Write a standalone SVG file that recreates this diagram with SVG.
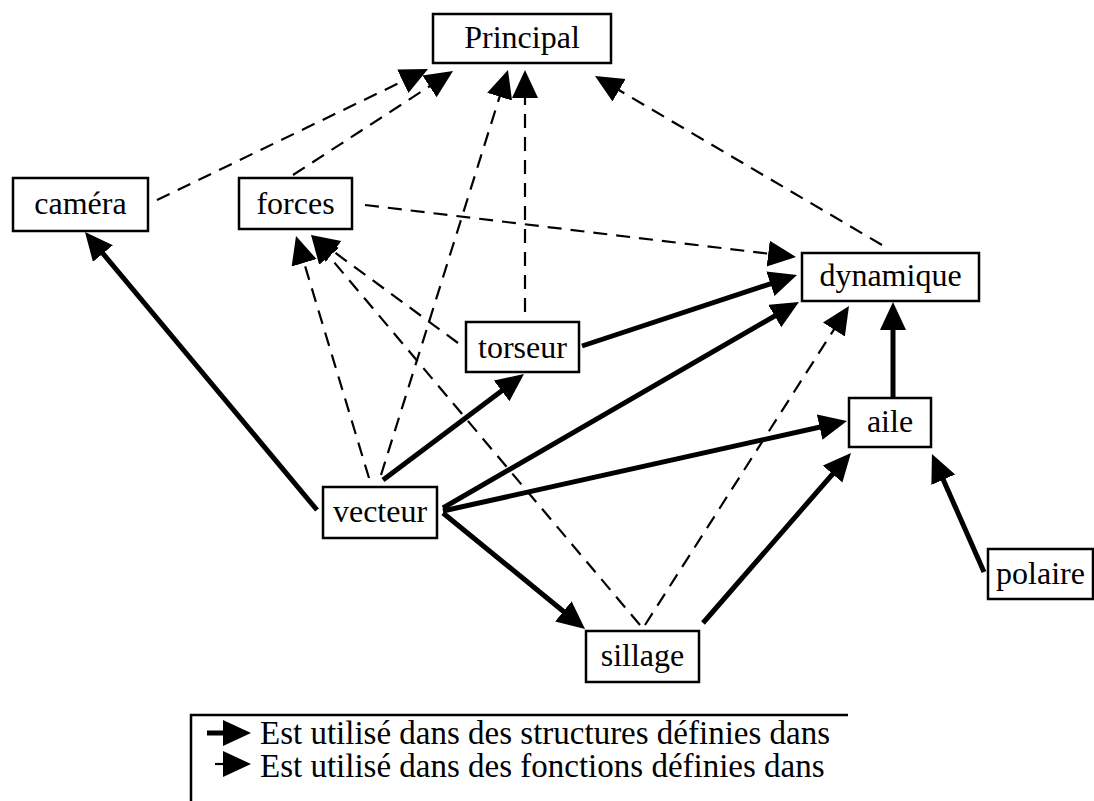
<svg xmlns="http://www.w3.org/2000/svg" width="1094" height="801" viewBox="0 0 1094 801">
<defs>
<marker id="ah" markerUnits="userSpaceOnUse" markerWidth="30" markerHeight="28" refX="18" refY="13" orient="auto"><path d="M0,0 L28,13 L0,26 z" fill="#000"/></marker>
<style>
.box{fill:#fff;stroke:#000;stroke-width:2.5}
.t{font-family:"Liberation Serif","Times New Roman",serif;font-size:32px;fill:#000;text-anchor:middle}
.lt{font-family:"Liberation Serif","Times New Roman",serif;font-size:33px;fill:#000}
.s{stroke:#000;stroke-width:5;fill:none;marker-end:url(#ah)}
.d{stroke:#000;stroke-width:2.2;fill:none;stroke-dasharray:14 9;marker-end:url(#ah)}
</style>
</defs>
<rect width="1094" height="801" fill="#fff"/>
<g id="connectors">
<line class="s" x1="317" y1="510" x2="91.4" y2="239.7"/>
<line class="s" x1="383" y1="480" x2="516" y2="380"/>
<line class="s" x1="443" y1="508" x2="790.3" y2="307"/>
<line class="s" x1="443" y1="511" x2="837.2" y2="423.2"/>
<line class="s" x1="443" y1="513" x2="577.3" y2="622.7"/>
<line class="s" x1="582" y1="346" x2="787.5" y2="278.1"/>
<line class="s" x1="893" y1="397" x2="893" y2="312"/>
<line class="s" x1="703" y1="623" x2="844.4" y2="460.5"/>
<line class="s" x1="984" y1="572" x2="936" y2="463.2"/>
<line class="d" x1="157" y1="200" x2="419" y2="73.4"/>
<line class="d" x1="293" y1="175" x2="444.6" y2="76.5"/>
<line class="d" x1="365" y1="205" x2="786.1" y2="255.8"/>
<line class="d" x1="381" y1="475" x2="505" y2="79.5"/>
<line class="d" x1="525" y1="312" x2="525" y2="80"/>
<line class="d" x1="882" y1="245" x2="603.6" y2="81.1"/>
<line class="d" x1="369" y1="478" x2="298.9" y2="245.6"/>
<line class="d" x1="458" y1="343" x2="319.1" y2="240.9"/>
<line class="d" x1="640" y1="625" x2="317.5" y2="242.6"/>
<line class="d" x1="645" y1="625" x2="843.6" y2="314.4"/>
</g>
<g id="principal"><rect class="box" x="433" y="14" width="178" height="49"/><text class="t" x="522" y="48">Principal</text></g>
<g id="camera"><rect class="box" x="13" y="178" width="135" height="53"/><text class="t" x="80.5" y="214">caméra</text></g>
<g id="forces"><rect class="box" x="239" y="178" width="113" height="51"/><text class="t" x="295.5" y="214">forces</text></g>
<g id="dynamique"><rect class="box" x="802" y="253" width="177" height="48"/><text class="t" x="890.5" y="286">dynamique</text></g>
<g id="torseur"><rect class="box" x="466" y="322" width="113" height="50"/><text class="t" x="522.5" y="358">torseur</text></g>
<g id="aile"><rect class="box" x="849" y="398" width="82" height="49"/><text class="t" x="890" y="432">aile</text></g>
<g id="vecteur"><rect class="box" x="323" y="487" width="114" height="51"/><text class="t" x="380" y="522">vecteur</text></g>
<g id="polaire"><rect class="box" x="988" y="549" width="105" height="50"/><text class="t" x="1040.5" y="584">polaire</text></g>
<g id="sillage"><rect class="box" x="586" y="631" width="113" height="51"/><text class="t" x="642.5" y="666">sillage</text></g>
<g id="legend">
<path d="M191,801 V715 H848" fill="none" stroke="#000" stroke-width="2.5"/>
<line class="s" x1="207" y1="733" x2="241" y2="733"/>
<line x1="215" y1="764" x2="232" y2="764" stroke="#000" stroke-width="2.2"/>
<path d="M223,751 L251,764 L223,777 z" fill="#000"/>
<text class="lt" x="260" y="744">Est utilisé dans des structures définies dans</text>
<text class="lt" x="260" y="777">Est utilisé dans des fonctions définies dans</text>
</g>
</svg>
